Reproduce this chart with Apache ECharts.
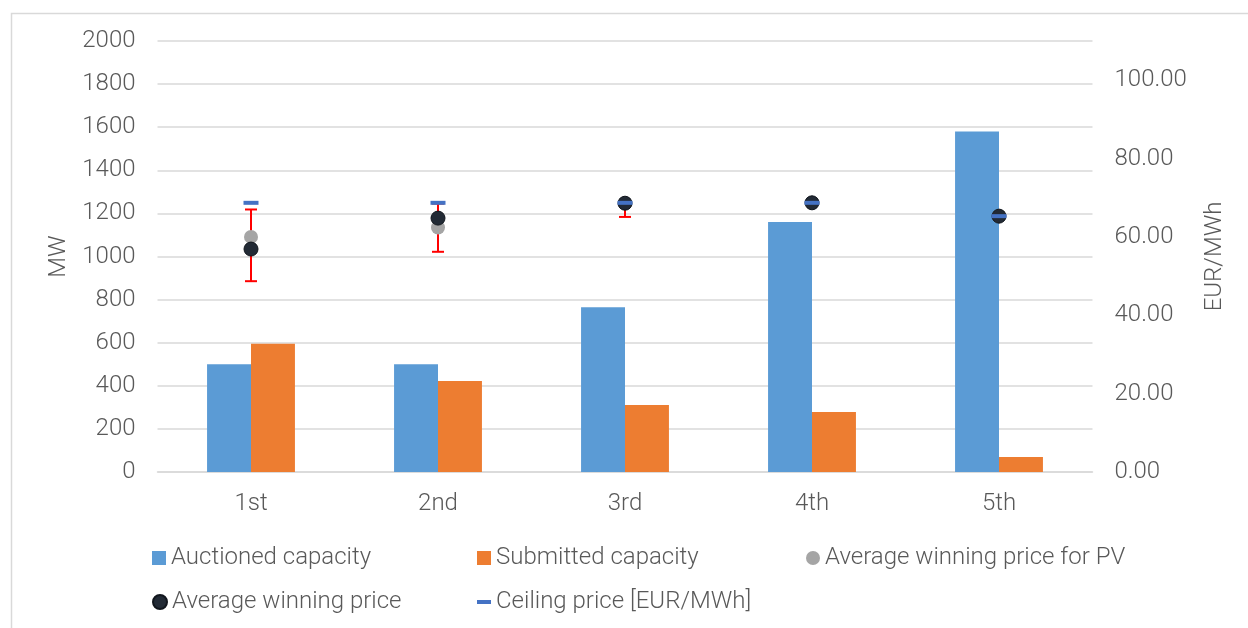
<!DOCTYPE html>
<html>
<head>
<meta charset="utf-8">
<script src="https://cdn.jsdelivr.net/npm/echarts@6/dist/echarts.min.js"></script>
<style>
  html, body { margin: 0; padding: 0; background: #fff; }
  #chart { width: 1248px; height: 628px; }
</style>
</head>
<body>
<div id="chart"></div>
<script>
// Auction rounds
const rounds = ['1st', '2nd', '3rd', '4th', '5th'];
// Capacities in MW (left axis)
const auctionedCapacity = [500, 500, 765, 1160, 1580];
const submittedCapacity = [595, 422, 311, 278, 70];
// Prices in EUR/MWh (right axis)
const avgPricePV = [60.0, 62.4, 68.6, 68.7, 65.3];
const avgPrice = [56.9, 64.8, 68.6, 68.7, 65.3];
const ceilingPrice = [68.7, 68.7, 68.7, 68.7, 65.3];
// Lowest / highest winning price per round
const priceLow = [48.7, 56.2, 65.1, 68.7, 65.3];
const priceHigh = [67.0, 68.5, 68.7, 68.7, 65.3];

const FONT = 'Roboto';
const TEXT = '#595959';
const GRID = '#d9d9d9';
const FS = 24;

const chart = echarts.init(document.getElementById('chart'), null, { renderer: 'canvas' });

const legendText = { color: TEXT, fontFamily: FONT, fontWeight: 300, fontSize: FS };
function legendAt(name, left, top, icon, w, h) {
  return {
    data: [{ name: name, icon: icon }],
    left: left, top: top,
    itemWidth: w, itemHeight: h, itemGap: 0,
    selectedMode: false,
    textStyle: legendText,
    padding: 0
  };
}

const errorBars = priceLow.map((v, i) => [i, v, priceHigh[i]]);

chart.setOption({
  animation: false,
  backgroundColor: '#fff',
  graphic: [{
    type: 'rect', left: 9, top: 11,
    shape: { width: 1260, height: 640 },
    style: { fill: 'none', stroke: GRID, lineWidth: 1.5 },
    silent: true
  }],
  grid: { left: 157.5, right: 155.5, top: 41, bottom: 156 },
  legend: [
    legendAt('Auctioned capacity', 152, 546, 'rect', 14, 14),
    legendAt('Submitted capacity', 477, 546, 'rect', 14, 14),
    legendAt('Average winning price for PV', 806, 546, 'circle', 14, 14),
    legendAt('Average winning price', 152, 590, 'circle', 14, 14),
    legendAt('Ceiling price [EUR/MWh]', 477, 590, 'rect', 14, 4)
  ],
  xAxis: {
    type: 'category',
    data: rounds,
    axisTick: { show: false },
    axisLine: { lineStyle: { color: GRID, width: 1.5 } },
    axisLabel: { color: TEXT, fontFamily: FONT, fontWeight: 300, fontSize: FS, margin: 20 }
  },
  yAxis: [{
    type: 'value', min: 0, max: 2000, interval: 200,
    name: 'MW', nameLocation: 'middle', nameGap: 86, nameRotate: 90,
    nameTextStyle: { color: TEXT, fontFamily: FONT, fontWeight: 300, fontSize: FS },
    axisLine: { show: false }, axisTick: { show: false },
    axisLabel: {
      color: TEXT, fontFamily: FONT, fontWeight: 300, fontSize: FS, margin: 22,
      formatter: v => String(v)
    },
    splitLine: { lineStyle: { color: GRID, width: 1.5 } }
  }, {
    type: 'value', min: 0, max: 110, interval: 20,
    name: 'EUR/MWh', nameLocation: 'middle', nameGap: 110, nameRotate: 90,
    nameTextStyle: { color: TEXT, fontFamily: FONT, fontWeight: 300, fontSize: FS },
    axisLine: { show: false }, axisTick: { show: false },
    axisLabel: {
      color: TEXT, fontFamily: FONT, fontWeight: 300, fontSize: FS, margin: 22,
      formatter: v => (v > 100 ? '' : v.toFixed(2))
    },
    splitLine: { show: false }
  }],
  series: [{
    name: 'Auctioned capacity', type: 'bar', data: auctionedCapacity,
    itemStyle: { color: '#5b9bd5' }, barGap: 0, barCategoryGap: '53%'
  }, {
    name: 'Submitted capacity', type: 'bar', data: submittedCapacity,
    itemStyle: { color: '#ed7d31' }
  }, {
    name: 'Price range', type: 'custom', yAxisIndex: 1, z: 3,
    data: errorBars,
    renderItem: function (params, api) {
      const i = api.value(0);
      const lo = api.coord([i, api.value(1)]);
      const hi = api.coord([i, api.value(2)]);
      const cap = 6;
      const style = { stroke: '#ff0000', lineWidth: 2 };
      return {
        type: 'group',
        children: [
          { type: 'line', shape: { x1: lo[0], y1: lo[1], x2: hi[0], y2: hi[1] }, style: style },
          { type: 'line', shape: { x1: lo[0] - cap, y1: lo[1], x2: lo[0] + cap, y2: lo[1] }, style: style },
          { type: 'line', shape: { x1: hi[0] - cap, y1: hi[1], x2: hi[0] + cap, y2: hi[1] }, style: style }
        ]
      };
    }
  }, {
    name: 'Average winning price for PV', type: 'scatter', yAxisIndex: 1, z: 4,
    data: avgPricePV, symbol: 'circle', symbolSize: 14,
    itemStyle: { color: '#a5a5a5', opacity: 1 }
  }, {
    name: 'Average winning price', type: 'scatter', yAxisIndex: 1, z: 5,
    data: avgPrice, symbol: 'circle', symbolSize: 14,
    itemStyle: { color: '#222a35', borderColor: '#11161d', borderWidth: 1, opacity: 1 }
  }, {
    name: 'Ceiling price [EUR/MWh]', type: 'scatter', yAxisIndex: 1, z: 6,
    data: ceilingPrice, symbol: 'rect', symbolSize: [15, 4],
    itemStyle: { color: '#4472c4', opacity: 1 }
  }]
});
</script>
</body>
</html>
